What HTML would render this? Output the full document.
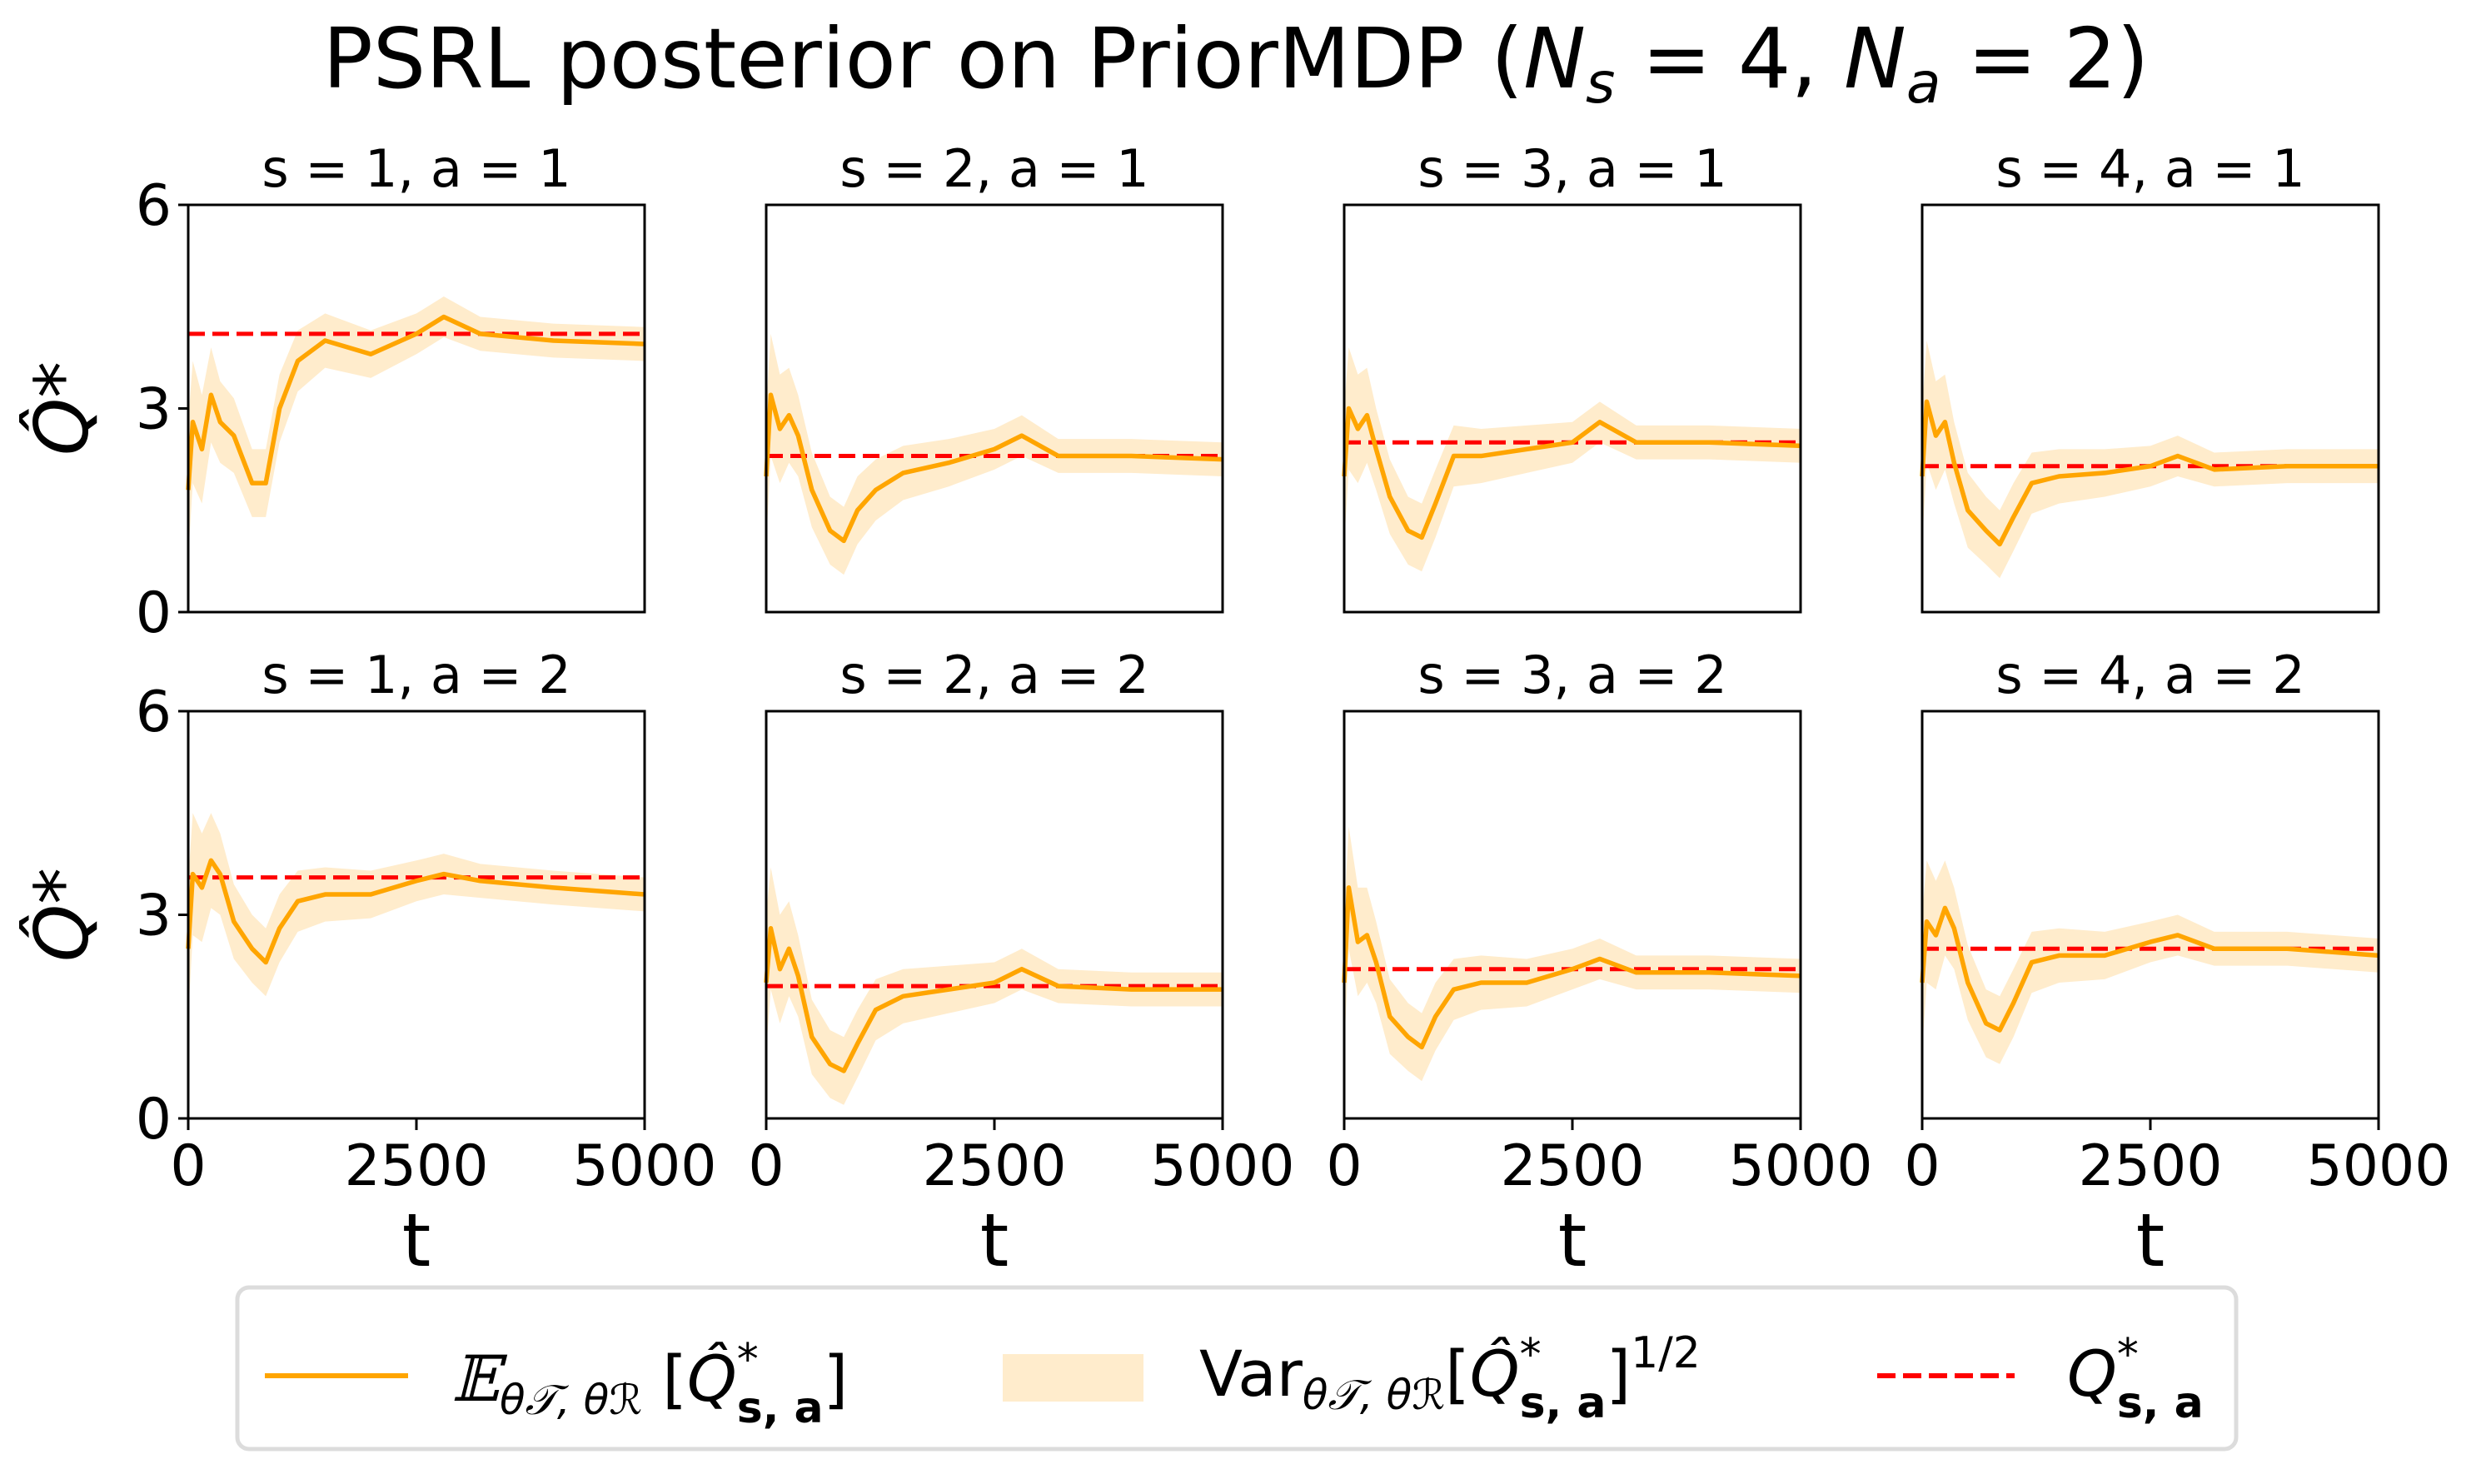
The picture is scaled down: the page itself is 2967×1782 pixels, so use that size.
<!DOCTYPE html>
<html><head><meta charset="utf-8"><style>
body{margin:0;background:#fff}
svg{display:block;font-family:"DejaVu Sans","Liberation Sans",sans-serif}
</style></head><body>
<svg id="fig" width="2967" height="1782" viewBox="0 0 2967 1782">
<text x="1484" y="105" font-size="100" text-anchor="middle">PSRL posterior on PriorMDP (<tspan font-style="italic">N</tspan><tspan font-style="italic" font-size="68" dy="18">s</tspan><tspan dy="-18"> = 4, </tspan><tspan font-style="italic">N</tspan><tspan font-style="italic" font-size="68" dy="18">a</tspan><tspan dy="-18"> = 2)</tspan></text>
<g id="panels"></g>
<g>
<rect x="285" y="1546" width="2400" height="194" rx="14" fill="#fff" stroke="#dcdcdc" stroke-width="5"/>
<line x1="318" y1="1652" x2="490" y2="1652" stroke="#FFA500" stroke-width="6"/>
<text x="542" y="1682" font-size="76"><tspan font-family="DejaVu Serif,serif" font-style="italic">𝔼</tspan><tspan font-size="50" font-style="italic" dy="16">θ𝒯, θℛ</tspan><tspan dy="-16"> [</tspan><tspan font-style="italic">Q̂</tspan><tspan font-size="52" dy="-32">*</tspan><tspan font-size="52" font-weight="bold" dx="-26" dy="58">s, a</tspan><tspan dy="-26">]</tspan></text>
<rect x="1204" y="1626" width="169" height="57" fill="#FFECCC"/>
<text x="1440" y="1676" font-size="76">Var<tspan font-size="50" font-style="italic" dy="16">θ𝒯, θℛ</tspan><tspan dy="-16">[</tspan><tspan font-style="italic">Q̂</tspan><tspan font-size="52" dy="-32">*</tspan><tspan font-size="52" font-weight="bold" dx="-26" dy="58">s, a</tspan><tspan dy="-26">]</tspan><tspan font-size="52" dy="-34">1/2</tspan></text>
<line x1="2254" y1="1652" x2="2419" y2="1652" stroke="#FF0000" stroke-width="6" stroke-dasharray="22,9"/>
<text x="2482" y="1676" font-size="76"><tspan font-style="italic">Q</tspan><tspan font-size="52" dy="-32">*</tspan><tspan font-size="52" font-weight="bold" dx="-26" dy="58">s, a</tspan></text>
</g>
</svg>
<script>
const tSteps=[0,50,150,250,350,500,700,850,1000,1200,1500,2000,2500,2800,3200,4000,5000];
const xTicks=[0,2500,5000];
const yTicks=[0,3,6];
const targets=[4.1,2.3,2.5,2.15,3.55,1.95,2.2,2.5];
const stdVals=[1.0,0.9,0.8,0.7,0.6,0.55,0.5,0.5,0.5,0.45,0.4,0.35,0.3,0.3,0.25,0.25,0.25];
const mean11=[1.8,2.8,2.4,3.2,2.8,2.6,1.9,1.9,3.0,3.7,4.0,3.8,4.1,4.35,4.1,4.0,3.95];
const mean21=[2.0,3.2,2.7,2.9,2.6,1.8,1.2,1.05,1.5,1.8,2.05,2.2,2.4,2.6,2.3,2.3,2.25];
const mean31=[2.0,3.0,2.7,2.9,2.4,1.7,1.2,1.1,1.6,2.3,2.3,2.4,2.5,2.8,2.5,2.5,2.45];
const mean41=[2.0,3.1,2.6,2.8,2.2,1.5,1.2,1.0,1.4,1.9,2.0,2.05,2.15,2.3,2.1,2.15,2.15];
const mean12=[2.5,3.6,3.4,3.8,3.6,2.9,2.5,2.3,2.8,3.2,3.3,3.3,3.5,3.6,3.5,3.4,3.3];
const mean22=[2.0,2.8,2.2,2.5,2.1,1.2,0.8,0.7,1.1,1.6,1.8,1.9,2.0,2.2,1.95,1.9,1.9];
const mean32=[2.0,3.4,2.6,2.7,2.3,1.5,1.2,1.05,1.5,1.9,2.0,2.0,2.2,2.35,2.15,2.15,2.1];
const mean42=[2.0,2.9,2.7,3.1,2.8,2.0,1.4,1.3,1.7,2.3,2.4,2.4,2.6,2.7,2.5,2.5,2.4];
const means=[mean11,mean21,mean31,mean41,mean12,mean22,mean32,mean42];
const NS="http://www.w3.org/2000/svg";
const g=document.getElementById('panels');
const colX=[226,920,1614,2308], rowY=[246,854], W=548, H=489;
function mk(tag,attrs,parent){const e=document.createElementNS(NS,tag);for(const k in attrs)e.setAttribute(k,attrs[k]);(parent||g).appendChild(e);return e;}
for(let p=0;p<8;p++){
  const r=Math.floor(p/4), c=p%4, x0=colX[c], y0=rowY[r];
  const sx=t=>x0+t/5000*W, sy=v=>y0+H-v/6*H;
  const pg=mk('g',{});
  
  
  const m=means[p];
  let up=tSteps.map((t,i)=>sx(t)+','+sy(m[i]+stdVals[i]));
  let dn=tSteps.map((t,i)=>sx(t)+','+sy(Math.max(0,m[i]-stdVals[i]))).reverse();
  const band=mk('polygon',{points:up.concat(dn).join(' '),fill:'#FFECCC'},pg);
  
  
  const tl=mk('line',{x1:sx(0),x2:sx(5000),y1:sy(targets[p]),y2:sy(targets[p]),stroke:'#FF0000','stroke-width':5,'stroke-dasharray':'20,9'},pg);
  
  
  const ml=mk('polyline',{points:tSteps.map((t,i)=>sx(t)+','+sy(m[i])).join(' '),fill:'none',stroke:'#FFA500','stroke-width':5.5,'stroke-linejoin':'round'},pg);
  
  
  const fr=mk('rect',{x:x0,y:y0,width:W,height:H,fill:'none',stroke:'#000','stroke-width':3},pg);
  
  
  const ti=mk('text',{x:x0+W/2,y:y0-22,'font-size':62,'text-anchor':'middle'},pg);
  ti.textContent='s = '+(c+1)+', a = '+(r+1);
  
  
  if(c===0){
    yTicks.forEach(v=>{
      mk('line',{x1:x0-12,x2:x0,y1:sy(v),y2:sy(v),stroke:'#000','stroke-width':3},pg);
      const tt=mk('text',{x:x0-20,y:sy(v)+24,'font-size':68,'text-anchor':'end'},pg);
      tt.textContent=v;
      
      
    });
    const yl=mk('text',{x:0,y:0,'font-size':88,'font-style':'italic','text-anchor':'middle',transform:'translate(105,'+(y0+H/2)+') rotate(-90)'},pg);
    yl.textContent='Q̂*';
    
    
  }
  if(r===1){
    xTicks.forEach(v=>{
      mk('line',{x1:sx(v),x2:sx(v),y1:y0+H,y2:y0+H+14,stroke:'#000','stroke-width':3},pg);
      const tt=mk('text',{x:sx(v),y:y0+H+80,'font-size':68,'text-anchor':'middle'},pg);
      tt.textContent=v;
      
      
    });
    const xl=mk('text',{x:x0+W/2,y:1520,'font-size':88,'text-anchor':'middle'},pg);
    xl.textContent='t';
    
    
  }
}
</script>
</body></html>
